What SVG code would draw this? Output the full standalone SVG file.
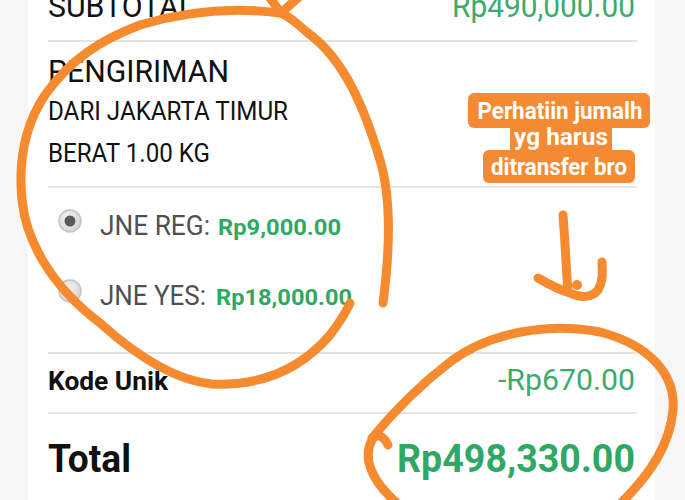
<svg xmlns="http://www.w3.org/2000/svg" width="685" height="500" viewBox="0 0 685 500">
<defs>
<style>
.t{font-family:Roboto,"Liberation Sans",sans-serif;fill:#111}
.g{font-family:Roboto,"Liberation Sans",sans-serif;fill:#3dab6c}
.gb{font-family:Roboto,"Liberation Sans",sans-serif;fill:#2fa863;font-weight:bold}
.sep{stroke:#e3e3e3;stroke-width:2}
.ink{fill:none;stroke:#f58a2e;stroke-width:9;stroke-linecap:round;stroke-linejoin:round}
.tag{fill:#f58a35}
.tagt{font-family:Roboto,"Liberation Sans",sans-serif;font-weight:bold;fill:#fff;font-size:23px;text-anchor:middle}
</style>
<radialGradient id="rg" cx="0.4" cy="0.35" r="0.7">
<stop offset="0" stop-color="#f4f4f4"/><stop offset="1" stop-color="#d2d2d2"/>
</radialGradient>
</defs>
<rect width="685" height="500" fill="#f6f6f6"/>
<rect x="28" y="0" width="627" height="500" fill="#ffffff"/>
<g id="separators">
<line class="sep" x1="48" y1="41" x2="637" y2="41"/>
<line class="sep" x1="48" y1="187" x2="637" y2="187"/>
<line class="sep" x1="48" y1="353" x2="637" y2="353"/>
<line class="sep" x1="48" y1="413" x2="637" y2="413"/>
</g>
<g id="subtotal">
<text class="t" x="48" y="17" font-size="31" textLength="147" lengthAdjust="spacingAndGlyphs">SUBTOTAL</text>
<text class="g" x="452" y="17" font-size="31" textLength="183" lengthAdjust="spacingAndGlyphs">Rp490,000.00</text>
</g>
<g id="pengiriman">
<text class="t" x="48" y="82" font-size="31" textLength="181" lengthAdjust="spacingAndGlyphs">PENGIRIMAN</text>
<text class="t" x="48" y="120" font-size="25" textLength="240" lengthAdjust="spacingAndGlyphs">DARI JAKARTA TIMUR</text>
<text class="t" x="48" y="162" font-size="25" textLength="162" lengthAdjust="spacingAndGlyphs">BERAT 1.00 KG</text>
</g>
<g id="jne-reg">
<circle cx="70" cy="221" r="11" fill="url(#rg)" stroke="#c4c4c4" stroke-width="1.5"/>
<circle cx="70" cy="221" r="5.5" fill="#5a5a5a"/>
<text class="t" x="100" y="235" font-size="27" style="fill:#505050" textLength="110" lengthAdjust="spacingAndGlyphs">JNE REG:</text>
<text class="gb" x="218" y="235" font-size="22" textLength="123" lengthAdjust="spacingAndGlyphs">Rp9,000.00</text>
</g>
<g id="jne-yes">
<circle cx="70" cy="291" r="11" fill="url(#rg)" stroke="#c4c4c4" stroke-width="1.5"/>
<text class="t" x="100" y="305" font-size="27" style="fill:#505050" textLength="106" lengthAdjust="spacingAndGlyphs">JNE YES:</text>
<text class="gb" x="216" y="305" font-size="22" textLength="136" lengthAdjust="spacingAndGlyphs">Rp18,000.00</text>
</g>
<g id="kode-unik">
<text class="t" x="48" y="390" font-size="26" font-weight="bold" textLength="120" lengthAdjust="spacingAndGlyphs">Kode Unik</text>
<text class="g" x="498" y="390" font-size="30" textLength="137" lengthAdjust="spacingAndGlyphs">-Rp670.00</text>
</g>
<g id="total">
<text class="t" x="48" y="472" font-size="39" font-weight="bold" textLength="83" lengthAdjust="spacingAndGlyphs">Total</text>
<text class="gb" x="397" y="472" font-size="39" textLength="238" lengthAdjust="spacingAndGlyphs">Rp498,330.00</text>
</g>
<g id="note">
<rect class="tag" x="468" y="93" width="182" height="35" rx="6"/>
<rect class="tag" x="510" y="124" width="102" height="30" rx="5"/>
<rect class="tag" x="483" y="150" width="152" height="33" rx="6"/>
<text class="tagt" x="560" y="119" textLength="165" lengthAdjust="spacingAndGlyphs">Perhatiin jumalh</text>
<text class="tagt" x="561" y="145" textLength="94" lengthAdjust="spacingAndGlyphs">yg harus</text>
<text class="tagt" x="559" y="175" textLength="136" lengthAdjust="spacingAndGlyphs">ditransfer bro</text>
</g>
<g id="annotations">
<path class="ink" d="M383,303 C390,250 392,200 380,160 C365,110 345,60 308,33 C295,22 288,15 280,13 C240,8 190,10 140,25 C100,40 70,60 45,95 C25,125 18,160 22,200 C26,240 50,285 100,323 C130,350 170,380 212,384 C260,386 300,370 330,335 C340,322 346,312 350,303"/>
<path class="ink" d="M270,-2 L281,13 L300,-4"/>
<path class="ink" d="M388,445 C384,436 376,432 372,440 C362,458 372,482 398,504"/>
<path class="ink" d="M372,438 C395,410 420,385 450,362 C490,332 550,322 600,332 C650,345 676,375 673,410 C670,445 650,475 620,504"/>
<path class="ink" d="M563,215 C565,240 566,265 568,292"/>
<path class="ink" d="M538,278 C550,285 560,290 570,293 C580,298 592,298 598,290 C604,280 602,270 602,262"/>
<circle cx="577" cy="285" r="5" fill="#f58a2e"/>
</g>
</svg>
